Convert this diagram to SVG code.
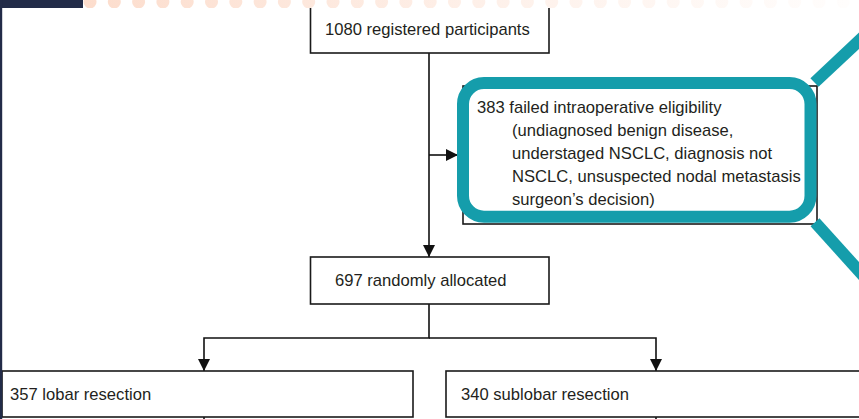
<svg xmlns="http://www.w3.org/2000/svg" width="859" height="419" viewBox="0 0 859 419">
  <style>
    .box { fill: #ffffff; stroke: #1a1a1a; stroke-width: 1.6; }
    .lbl { font-family: "Liberation Sans", Arial, sans-serif; font-size: 16.6px; fill: #231f20; }
    .conn { fill: none; stroke: #111111; stroke-width: 1.6; }
    .teal { fill: none; stroke: #159dab; stroke-width: 12; }
  </style>
  <defs>
    <marker id="arr" markerUnits="userSpaceOnUse" viewBox="0 0 12 12" markerWidth="12" markerHeight="12" refX="12" refY="6" orient="auto">
      <path d="M0,0 L12,6 L0,12 z" fill="#111111"/>
    </marker>
    <linearGradient id="dotfade" gradientUnits="userSpaceOnUse" x1="83" y1="0" x2="860" y2="0">
      <stop offset="0" stop-color="#fcd9c7" stop-opacity="0.9"/>
      <stop offset="0.5" stop-color="#fcd9c7" stop-opacity="0.4"/>
      <stop offset="1" stop-color="#fcd9c7" stop-opacity="0.04"/>
    </linearGradient>
    <clipPath id="band"><rect x="83" y="0" width="776" height="8"/></clipPath>
  </defs>

  <rect x="0" y="0" width="859" height="419" fill="#ffffff"/>

  <g id="connectors">
    <path class="conn" d="M429,53 V257" marker-end="url(#arr)"/>
    <path class="conn" d="M429,155 H458" marker-end="url(#arr)"/>
    <path class="conn" d="M429,304 V338 H204 V371" marker-end="url(#arr)"/>
    <path class="conn" d="M429,338 H656 V371" marker-end="url(#arr)"/>
    <path class="conn" d="M204,417 V419"/>
    <path class="conn" d="M656,417 V419"/>
  </g>

  <g id="registered">
    <rect class="box" x="310.5" y="6" width="238.5" height="47"/>
    <text class="lbl" x="325" y="35">1080 registered participants</text>
  </g>

  <g id="excluded">
    <rect class="box" x="463" y="86" width="354" height="138" stroke-width="1.4"/>
    <rect class="teal" x="463" y="83" width="347.5" height="133.7" rx="21" ry="21"/>
    <text class="lbl" x="477" y="113">383 failed intraoperative eligibility</text>
    <text class="lbl" x="512" y="136">(undiagnosed benign disease,</text>
    <text class="lbl" x="512" y="159">understaged NSCLC, diagnosis not</text>
    <text class="lbl" x="512" y="182">NSCLC, unsuspected nodal metastasis</text>
    <text class="lbl" x="512" y="205">surgeon’s decision)</text>
    <line x1="814.5" y1="82.5" x2="864" y2="36" stroke="#159dab" stroke-width="12"/>
    <line x1="815" y1="222.3" x2="864" y2="276.5" stroke="#159dab" stroke-width="12"/>
  </g>

  <g id="randomised">
    <rect class="box" x="310.5" y="257" width="238.5" height="47"/>
    <text class="lbl" x="335" y="286">697 randomly allocated</text>
  </g>

  <g id="lobar">
    <rect class="box" x="2" y="371" width="411" height="46"/>
    <text class="lbl" x="10" y="400">357 lobar resection</text>
  </g>

  <g id="sublobar">
    <rect class="box" x="446" y="371" width="420" height="46"/>
    <text class="lbl" x="461" y="400">340 sublobar resection</text>
  </g>

  <g id="frame">
    <rect x="83" y="0" width="776" height="8" fill="#ffffff"/>
    <g clip-path="url(#band)" fill="url(#dotfade)">
      <circle cx="90" cy="2" r="6.5"/><circle cx="114.3" cy="2" r="6.5"/><circle cx="138.6" cy="2" r="6.5"/><circle cx="162.9" cy="2" r="6.5"/><circle cx="187.2" cy="2" r="6.5"/><circle cx="211.5" cy="2" r="6.5"/><circle cx="235.8" cy="2" r="6.5"/><circle cx="260.1" cy="2" r="6.5"/><circle cx="284.4" cy="2" r="6.5"/><circle cx="308.7" cy="2" r="6.5"/><circle cx="333" cy="2" r="6.5"/><circle cx="357.3" cy="2" r="6.5"/><circle cx="381.6" cy="2" r="6.5"/><circle cx="405.9" cy="2" r="6.5"/><circle cx="430.2" cy="2" r="6.5"/><circle cx="454.5" cy="2" r="6.5"/><circle cx="478.8" cy="2" r="6.5"/><circle cx="503.1" cy="2" r="6.5"/><circle cx="527.4" cy="2" r="6.5"/><circle cx="551.7" cy="2" r="6.5"/><circle cx="576" cy="2" r="6.5"/><circle cx="600.3" cy="2" r="6.5"/><circle cx="624.6" cy="2" r="6.5"/><circle cx="648.9" cy="2" r="6.5"/><circle cx="673.2" cy="2" r="6.5"/><circle cx="697.5" cy="2" r="6.5"/><circle cx="721.8" cy="2" r="6.5"/><circle cx="746.1" cy="2" r="6.5"/><circle cx="770.4" cy="2" r="6.5"/><circle cx="794.7" cy="2" r="6.5"/><circle cx="819" cy="2" r="6.5"/><circle cx="843.3" cy="2" r="6.5"/>
    </g>
    <rect x="0" y="0" width="83" height="8" fill="#222b48"/>
    <rect x="0" y="0" width="2.2" height="419" fill="#222b48"/>
  </g>
</svg>
